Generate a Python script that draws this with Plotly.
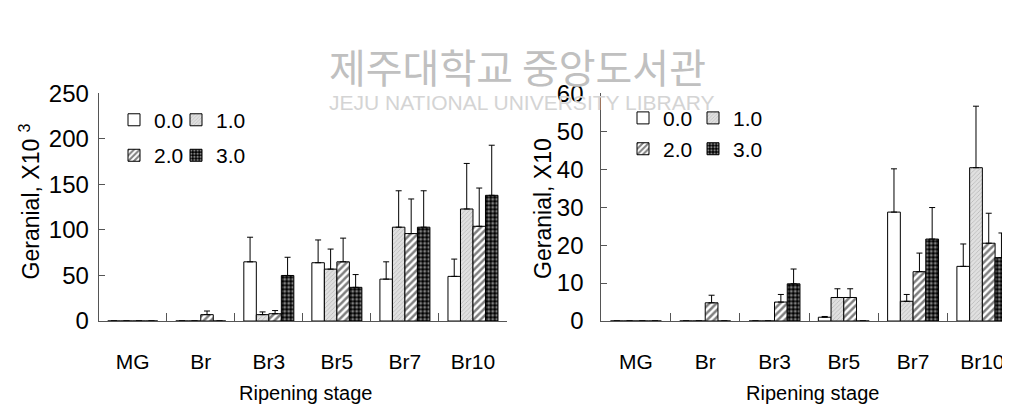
import plotly.graph_objects as go

stages = ["MG", "Br", "Br3", "Br5", "Br7", "Br10"]
series_names = ["0.0", "1.0", "2.0", "3.0"]

# Left chart: Geranial, X10^3
left_vals = {
    "0.0": [0, 0, 65, 64, 46, 49],
    "1.0": [0, 0, 7, 57, 103, 123],
    "2.0": [0, 7, 8, 65, 96, 104],
    "3.0": [0, 0, 50, 37, 103, 138],
}
left_err = {
    "0.0": [0, 0, 27, 25, 19, 19],
    "1.0": [0, 0, 3, 22, 40, 50],
    "2.0": [0, 4, 3.5, 26, 38, 42],
    "3.0": [0, 0, 20, 14, 40, 55],
}

# Right chart: Geranial, X10
right_vals = {
    "0.0": [0, 0, 0, 1.0, 28.7, 14.4],
    "1.0": [0, 0, 0, 6.2, 5.2, 40.4],
    "2.0": [0, 4.8, 5.0, 6.2, 13.0, 20.5],
    "3.0": [0, 0, 9.8, 0, 21.6, 16.7],
}
right_err = {
    "0.0": [0, 0, 0, 0.2, 11.4, 5.9],
    "1.0": [0, 0, 0, 2.3, 1.8, 16.2],
    "2.0": [0, 2.0, 2.0, 2.3, 4.9, 7.9],
    "3.0": [0, 0, 3.9, 0, 8.3, 6.5],
}

W, H = 1010, 412
FONT = "Liberation Sans, Arial, sans-serif"
AXC = "#555555"

styles = {
    "0.0": dict(color="white", pattern=dict(shape="")),
    "1.0": dict(color="#e0e0e0", pattern=dict(shape="/", fgcolor="#8c8c8c", bgcolor="#e0e0e0", size=3, solidity=0.25)),
    "2.0": dict(color="white", pattern=dict(shape="/", fgcolor="black", bgcolor="white", size=5, solidity=0.5)),
    "3.0": dict(color="black", pattern=dict(shape=".", fgcolor="white", bgcolor="black", size=4, solidity=0.45)),
}

def px_x(p):
    return p / W

def px_y(p):
    return 1 - p / H

fig = go.Figure()

# one legend per entry, positioned (swatch left edge, row centre) in pixels
legend_pos = [
    {"0.0": (129, 119), "1.0": (191, 119), "2.0": (129, 157), "3.0": (191, 157)},
    {"0.0": (638, 117), "1.0": (708, 117), "2.0": (638, 150), "3.0": (708, 150)},
]
leg_common = dict(orientation="h", xanchor="left", yanchor="middle", bgcolor="rgba(0,0,0,0)",
                  font=dict(family=FONT, size=21, color="black"), itemclick=False, itemdoubleclick=False)
legends = {}
k = 0
for ci, (vals, errs, xa, ya) in enumerate([(left_vals, left_err, "x", "y"), (right_vals, right_err, "x2", "y2")]):
    for s in series_names:
        k += 1
        lname = "legend" if k == 1 else f"legend{k}"
        sx, sy = legend_pos[ci][s]
        legends[lname] = dict(x=px_x(sx - 23), y=px_y(sy - 14), **leg_common)
        st = styles[s]
        fig.add_trace(go.Bar(
            x=stages, y=vals[s], name=s, xaxis=xa, yaxis=ya, legend=lname,
            marker=dict(color=st["color"], line=dict(color="black", width=1), pattern=st["pattern"]),
            error_y=dict(type="data", symmetric=False, array=errs[s], arrayminus=[0] * len(stages),
                         color="black", thickness=1, width=3),
        ))

xcommon = dict(showline=True, linecolor=AXC, linewidth=1, showgrid=False, zeroline=False, type="category",
               ticks="inside", ticklen=8, tickcolor=AXC, tickson="boundaries", ticklabelstandoff=22,
               tickfont=dict(family=FONT, size=21, color="black"))
ycommon = dict(showline=True, linecolor=AXC, linewidth=1, showgrid=False, zeroline=False,
               ticks="inside", ticklen=6, tickcolor=AXC,
               tickfont=dict(family=FONT, size=24, color="black"))

fig.update_layout(
    width=W, height=H,
    margin=dict(l=0, r=0, t=0, b=0),
    paper_bgcolor="white", plot_bgcolor="white",
    barmode="group", bargap=0.265, bargroupgap=0,
    font=dict(family=FONT, color="black"),
    showlegend=True,
    xaxis=dict(domain=[px_x(90.7), px_x(499)], anchor="y", **xcommon),
    yaxis=dict(domain=[px_y(320), px_y(76.3)], anchor="x", range=[0, 250],
               tickvals=[0, 50, 100, 150, 200, 250], ticklabelstandoff=4, **ycommon),
    xaxis2=dict(domain=[px_x(593.3), px_x(1009)], anchor="y2", **xcommon),
    yaxis2=dict(domain=[px_y(320), px_y(76.3)], anchor="x2", range=[0, 60],
                tickvals=[0, 10, 20, 30, 40, 50, 60], ticklabelstandoff=12, **ycommon),
    **legends,
)

annotations = [
    dict(text="제주대학교 중앙도서관", x=px_x(509), y=px_y(47),
         font=dict(family="Noto Sans CJK KR", size=40, color="#c0c0c0")),
    dict(text="JEJU NATIONAL UNIVERSITY LIBRARY", x=px_x(514), y=px_y(86),
         font=dict(family=FONT, size=21, color="#d4d4d4")),
    dict(text="Geranial, X10 <sup>3</sup>", x=px_x(22), y=px_y(192), textangle=-90,
         font=dict(family=FONT, size=23, color="black")),
    dict(text="Geranial, X10", x=px_x(535), y=px_y(200), textangle=-90,
         font=dict(family=FONT, size=23, color="black")),
    dict(text="Ripening stage", x=px_x(297), y=px_y(397), font=dict(family=FONT, size=20, color="black")),
    dict(text="Ripening stage", x=px_x(804), y=px_y(397), font=dict(family=FONT, size=20, color="black")),
]
for a in annotations:
    a.update(xref="paper", yref="paper", showarrow=False, xanchor="center", yanchor="middle")
fig.update_layout(annotations=annotations)

fig.write_html("out.html")
